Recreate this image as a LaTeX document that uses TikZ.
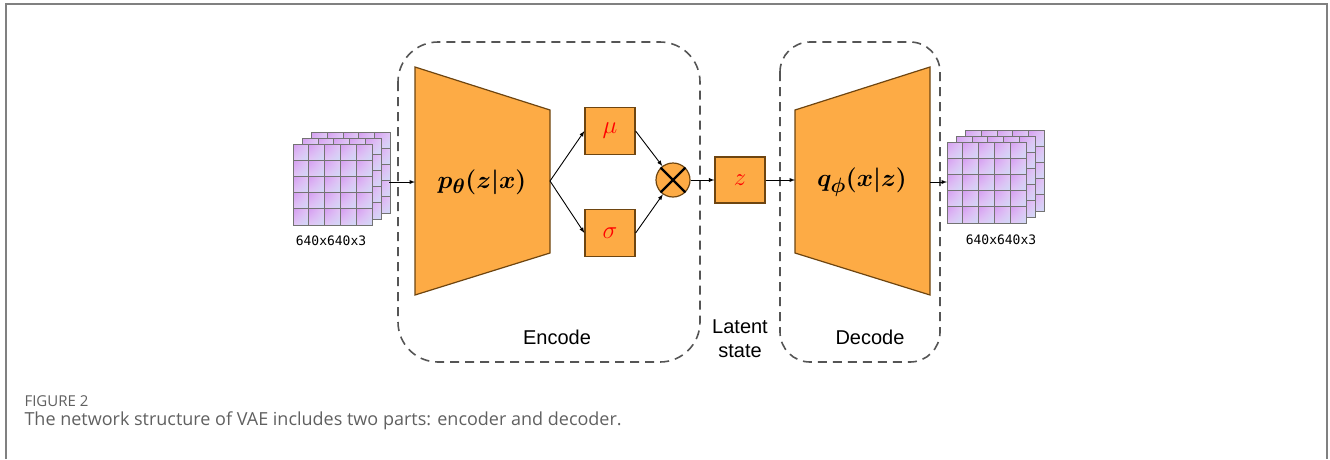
\documentclass[tikz,border=0pt]{standalone}
\usepackage{fontspec}
\setmainfont{Liberation Sans}
\newfontfamily\capfont{Open Sans}
\newfontfamily\monofont{DejaVu Sans Mono}
\usetikzlibrary{positioning,shadings}

\definecolor{blockfill}{HTML}{FDAB45}
\definecolor{blockline}{HTML}{6E4510}
\definecolor{cellA}{HTML}{D49CF0}
\definecolor{cellB}{HTML}{E4C6F6}
\definecolor{cellC}{HTML}{CFDAF6}
\definecolor{boxgray}{HTML}{555555}
\definecolor{capgray}{HTML}{606060}

\tikzset{
  block/.style={draw=blockline, fill=blockfill, line width=1.2pt},
  smallblock/.style={block, minimum width=50pt, minimum height=47pt, inner sep=0pt,
    text=red, font=\fontsize{24}{28}\selectfont},
  group/.style={draw=boxgray, line width=1.6pt, dash pattern=on 9pt off 6pt, rounded corners=40pt},
  link/.style={-latex, line width=0.9pt},
  label/.style={font=\fontsize{20}{24}\selectfont},
  formula/.style={font=\fontsize{31}{36}\selectfont\boldmath},
  sizelabel/.style={font=\monofont\fontsize{13}{15}\selectfont},
}

% one stack of three image layers, top-left corner of the front layer at (#1,#2)
\newcommand{\imgstack}[2]{%
  \foreach \k in {2,1,0} {
    \foreach \i in {0,...,4} {
      \foreach \j in {0,...,4} {
        \shade[upper left=cellA, upper right=cellB, lower left=cellB, lower right=cellC]
          ({#1+9.2*\k+15.8*\i},{#2-6*\k+16.2*\j}) rectangle ++(15.8,16.2);
        \draw[gray!90!black, line width=0.8pt]
          ({#1+9.2*\k+15.8*\i},{#2-6*\k+16.2*\j}) rectangle ++(15.8,16.2);
      }
    }
  }
}

\begin{document}
\begin{tikzpicture}[x=1pt, y=-1pt]
  \useasboundingbox (0,0) rectangle (1330,459);

  % frame of the figure
  \draw[gray, line width=1.5pt] (6,459) -- (6,4) -- (1327,4) -- (1327,459);

  % dashed groups
  \draw[group] (398,42) rectangle (700,362);
  \draw[group, rounded corners=30pt] (780,42) rectangle (940,362);

  % input and output images
  \imgstack{293}{144}
  \imgstack{947}{142}
  \coordinate (inR) at (389,182);
  \coordinate (outL) at (947,182);
  \node[sizelabel] (inlabel) at (331,241) {640x640x3};
  \node[sizelabel] (outlabel) at (1001,240) {640x640x3};

  % encoder
  \draw[block] (415,67) -- (550,110) -- (550,253) -- (415,295) -- cycle;
  \coordinate (encL) at (415,182);
  \coordinate (encR) at (550,181);
  \node[formula] (enc) at (482,182) {$p_\theta(z|x)$};

  \node[smallblock] (mu) at (610,131) {$\mu$};
  \node[smallblock] (sigma) at (610,233) {$\sigma$};
  \node[block, circle, minimum size=34pt, inner sep=0pt] (mult) at (673,180) {};
  \draw[line width=2.4pt] (mult.north west) -- (mult.south east);
  \draw[line width=2.4pt] (mult.north east) -- (mult.south west);
  \node[smallblock, minimum height=46pt] (z) at (740,180) {$z$};

  % decoder
  \draw[block] (795,110) -- (930,67) -- (930,295) -- (795,253) -- cycle;
  \coordinate (decL) at (795,180);
  \coordinate (decR) at (930,182);
  \node[formula] (dec) at (862,182) {$q_\phi(x|z)$};

  % connectors
  \draw[link] (inR) -- (encL);
  \draw[link] (encR) -- (mu.west);
  \draw[link] (encR) -- (sigma.west);
  \draw[link] (mu.east) -- (mult);
  \draw[link] (sigma.east) -- (mult);
  \draw[link] (mult) -- (z);
  \draw[link] (z) -- (decL);
  \draw[link] (decR) -- (outL);

  % group labels
  \node[label] (enclabel) at (557,337) {Encode};
  \node[label, align=center] (latlabel) at (740,339) {Latent\\state};
  \node[label] (declabel) at (870,337) {Decode};

  % caption
  \node[anchor=west, text=capgray, font=\capfont\fontsize{15}{17}\selectfont] (fig) at (21,401) {FIGURE 2};
  \node[anchor=west, text=capgray, font=\capfont\fontsize{18}{21}\selectfont] (cap) at (21,421)
    {The network structure of VAE includes two parts: encoder and decoder.};
\end{tikzpicture}
\end{document}
